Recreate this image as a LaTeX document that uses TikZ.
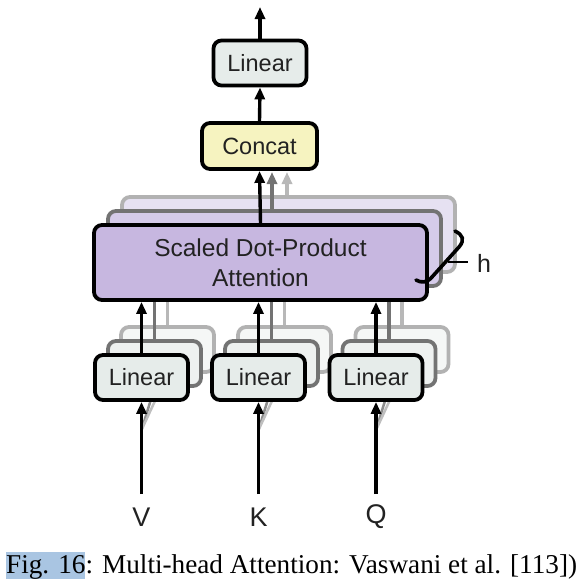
\documentclass[tikz,border=0pt]{standalone}
\usepackage{fontspec}
\setmainfont{Liberation Sans}
\newfontfamily\capfont{Liberation Serif}
\usetikzlibrary{arrows.meta}
\definecolor{linfill}{HTML}{E6ECEA}
\definecolor{linfillb}{HTML}{EEF1F0}
\definecolor{concfill}{HTML}{F6F3C0}
\definecolor{attfill}{HTML}{C7B7E0}
\definecolor{attfillb}{HTML}{D5CBE9}
\definecolor{attfillc}{HTML}{E6E1F2}
\definecolor{txt}{HTML}{222222}
\definecolor{hl}{HTML}{A9C5E2}
\tikzset{
  box/.style={draw=black, line width=3.8pt, rounded corners=8pt, text=txt, align=center, inner sep=0pt},
  linbox/.style={box, fill=linfill, minimum width=93pt, minimum height=45pt, font=\fontsize{23.5}{28}\selectfont},
  backA/.style={draw=black!55, fill=linfillb},
  backB/.style={draw=black!30, fill=linfillb!60},
  arr/.style={line width=3.4pt, -{Triangle[length=12pt,width=10pt]}},
  garr/.style={arr, draw=black!55},
  larr/.style={arr, draw=black!28},
  gline/.style={line width=3.4pt, draw=black!55},
  lline/.style={line width=3.4pt, draw=black!28},
  lbl/.style={text=txt, font=\fontsize{27}{30}\selectfont, inner sep=0pt},
}
\begin{document}
\begin{tikzpicture}[x=1pt,y=-1pt]
\useasboundingbox (0,0) rectangle (588,582);
\fill[white] (0,0) rectangle (588,582);

% ---- Top part
\node[linbox] (toplin) at (260,63) {Linear};
\node[box, fill=concfill, minimum width=115pt, minimum height=46pt, font=\fontsize{23.5}{28}\selectfont] (concat) at (259.5,146) {Concat};
\coordinate (out) at (260,7);
\draw[arr] (toplin.north) -- (out);
\draw[arr] (concat.north) -- (toplin.south);

% ---- Attention stack
\node[box, draw=black!30, fill=attfillc, minimum width=333pt, minimum height=75pt] (att3) at (288.5,234.5) {};
\coordinate (a3t) at (287,172);
\draw[larr] (att3.north -| a3t) -- (a3t);
\node[box, draw=black!55, fill=attfillb, minimum width=333pt, minimum height=75pt] (att2) at (274.5,248.5) {};
\coordinate (a2t) at (272,172);
\draw[garr] (att2.north -| a2t) -- (a2t);

% ---- bottom linears (behind attention)
\foreach \n/\cx/\lab in {v/141.5/V, k/258.5/K, q/376/Q}{
  \node[linbox, backB] (\n3) at (\cx+26,349.5) {};
  \draw[lline] (\n3.north) -- (\cx+26,272);
  \node[linbox, backA] (\n2) at (\cx+13,363.5) {};
  \draw[gline] (\n2.north) -- (\cx+13,287);
  \coordinate (\n in) at (\cx,430);
  \draw[line width=2.5pt, black!45] (\n in) -- (\n2.south);
  \draw[line width=2.5pt, black!25] (\n in) -- (\n3.south);
  \node[linbox] (\n1) at (\cx,377.5) {Linear};
  \node[lbl] (\n lab) at (\cx,517) {\lab};
  \coordinate (\n src) at (\cx,494);
  \draw[arr] (\n src) -- (\n1.south);
}

\node[box, fill=attfill, minimum width=333pt, minimum height=75pt, font=\fontsize{24.5}{30}\selectfont] (att) at (260.5,262.5) {Scaled Dot-Product\\Attention};
\draw[arr] (att.north) -- (concat.south);
\foreach \n in {v,k,q}{
  \draw[arr] (\n1.north) -- (\n1.north |- att.south);
}

% ---- brace and h
\draw[line width=3.6pt, line cap=round] (455,231) .. controls (463,235) and (465,240) .. (459,247) -- (432,277) .. controls (427,283) and (421,283) .. (416,280);
\coordinate (hb) at (448,262);
\coordinate (he) at (468,262);
\node[text=txt, font=\fontsize{25}{28}\selectfont, inner sep=0pt, anchor=west] (h) at (477,263) {h};
\draw[line width=2pt] (hb) -- (he);

% ---- caption
\fill[hl] (6,552) rectangle (85,579);
\node[anchor=base west, inner sep=0pt, font=\capfont\fontsize{27.2}{30}\selectfont] (cap) at (6,573) {Fig. 16: Multi-head Attention: Vaswani et al. [113])};
\end{tikzpicture}
\end{document}
